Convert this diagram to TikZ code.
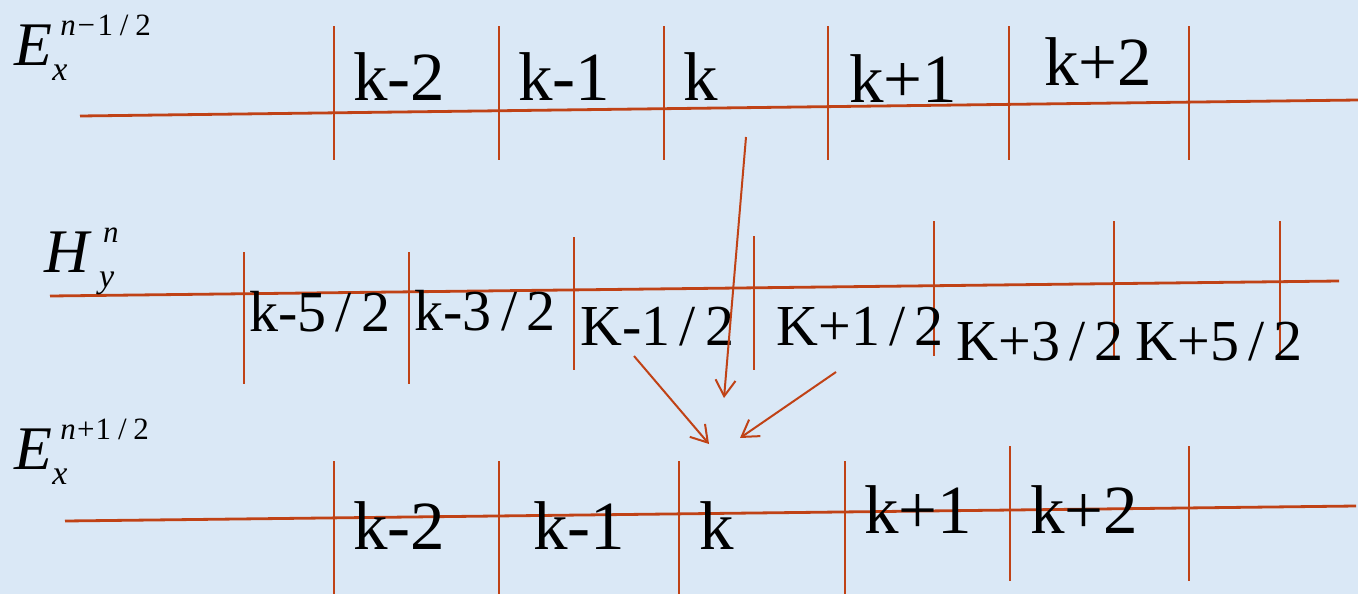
\documentclass[tikz,border=0pt]{standalone}
\usepackage{fontspec}
\setmainfont{Liberation Serif}
\usetikzlibrary{arrows.meta}
\definecolor{bgblue}{RGB}{218,232,246}
\definecolor{gridred}{RGB}{192,66,22}
\newcommand\slh{\kern0.16em/\kern0.16em}
\newcommand\supslh{\kern0.22em/\kern0.22em}
% #1 main letter, #2 superscript, #3 subscript, #4 sup kern, #5 sub kern
\newcommand\fieldlab[5]{\itshape #1\rlap{\kern#4\raisebox{0.47em}{\fontsize{15.5}{15.5}\selectfont #2}}\kern#5\raisebox{-0.25em}{\fontsize{17}{17}\selectfont #3}}
\begin{document}
\begin{tikzpicture}[x=0.5pt,y=-0.5pt,
  axis/.style={draw=gridred,line width=1.4pt},
  tickline/.style={draw=gridred,line width=1.1pt},
  arr/.style={draw=gridred,line width=1pt,-{Straight Barb[length=8pt,width=10pt,line width=1pt]}},
  biglab/.style={font=\fontsize{34.5}{34.5}\selectfont,anchor=base west,inner sep=0pt},
  midlab/.style={font=\fontsize{29}{29}\selectfont,anchor=base west,inner sep=0pt},
  fldlab/.style={font=\fontsize{31}{31}\selectfont,anchor=base west,inner sep=0pt}]
\fill[bgblue] (0,0) rectangle (1358,594);
\useasboundingbox (0,0) rectangle (1358,594);

% ---- top row E_x^{n-1/2}
\coordinate (tl) at (80,116);
\coordinate (tr) at (1358,100);
\draw[axis] (tl) -- (tr);
\foreach \x in {334,499,664,828,1009,1189}
  \draw[tickline] (\x,26) -- (\x,160);
\node[fldlab] (e1) at (14,65) {\fieldlab{E}{n\kern0.06em\textup{−}\kern0.08em\textup{1\supslh 2}}{x}{4pt}{0pt}};
\node[biglab] (t1) at (353,100) {k-2};
\node[biglab] (t2) at (518,100) {k-1};
\node[biglab] (t3) at (683,100) {k};
\node[biglab] (t4) at (849,102) {k+1};
\node[biglab] (t5) at (1044,85) {k+2};

% ---- middle row H_y^n
\coordinate (ml) at (50,296);
\coordinate (mr) at (1339,281);
\draw[axis] (ml) -- (mr);
\foreach \x/\a/\b in {244/252/384,409/252/384,574/237/370,754/236/370,934/221/356,1114/221/356,1280/221/356}
  \draw[tickline] (\x,\a) -- (\x,\b);
\node[fldlab] (h1) at (44,272) {\fieldlab{H}{n}{y}{7pt}{5pt}};
\node[midlab] (m1) at (249,331) {k-5\slh 2};
\node[midlab] (m2) at (414,330) {k-3\slh 2};
\node[midlab] (m3) at (580,345) {K-1\slh 2};
\node[midlab] (m4) at (776,345) {K+1\slh 2};
\node[midlab] (m5) at (956,360) {K+3\slh 2};
\node[midlab] (m6) at (1135,360) {K+5\slh 2};

% ---- bottom row E_x^{n+1/2}
\coordinate (bl) at (65,521);
\coordinate (br) at (1356,506);
\draw[axis] (bl) -- (br);
\foreach \x/\a/\b in {334/461/594,499/461/594,679/461/594,845/461/594,1010/446/581,1189/446/581}
  \draw[tickline] (\x,\a) -- (\x,\b);
\node[fldlab] (e2) at (14,469) {\fieldlab{E}{n\kern0.04em\textup{+}\kern0.04em\textup{1\supslh 2}}{x}{4pt}{0pt}};
\node[biglab] (b1) at (353,549) {k-2};
\node[biglab] (b2) at (533,549) {k-1};
\node[biglab] (b3) at (699,549) {k};
\node[biglab] (b4) at (864,533) {k+1};
\node[biglab] (b5) at (1030,533) {k+2};

% ---- arrows
\coordinate (a1s) at (746,137);
\coordinate (a1e) at (724,398);
\coordinate (a2s) at (634,356);
\coordinate (a2e) at (709,444);
\coordinate (a3s) at (836,372);
\coordinate (a3e) at (740,438);
\draw[arr] (a1s) -- (a1e);
\draw[arr] (a2s) -- (a2e);
\draw[arr] (a3s) -- (a3e);
\end{tikzpicture}
\end{document}
